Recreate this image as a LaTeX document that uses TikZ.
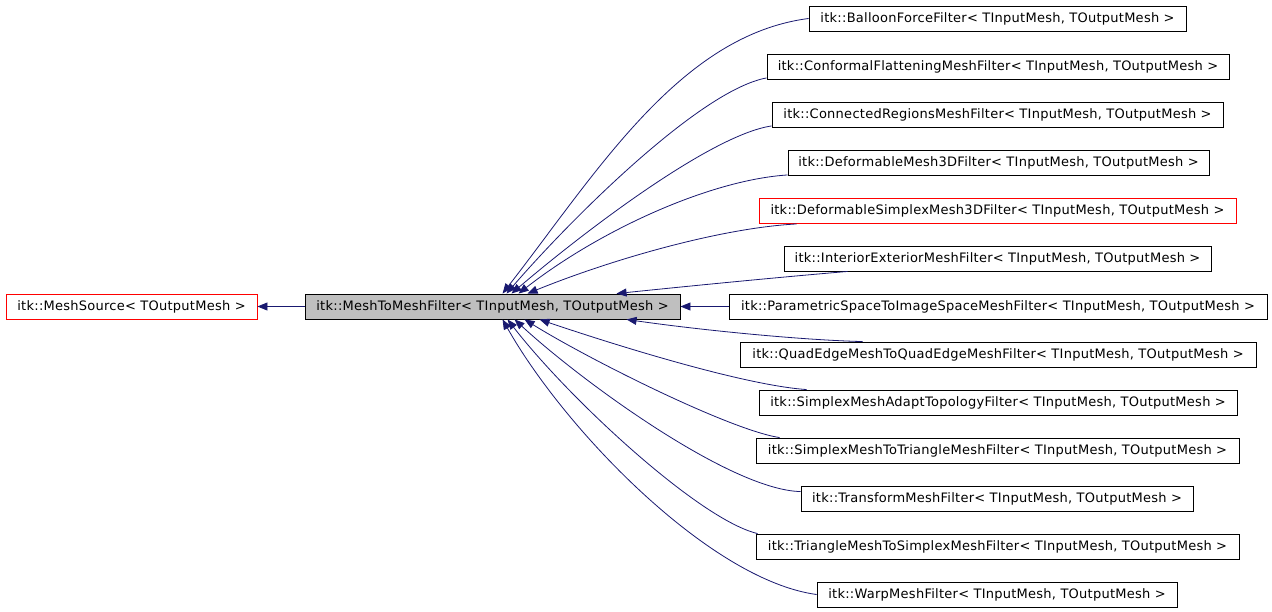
\documentclass[tikz,border=0pt]{standalone}
\usepackage{fontspec}
\setmainfont{DejaVu Sans}[LetterSpace=2.0]
\usetikzlibrary{arrows.meta}
\definecolor{edgeblue}{HTML}{191970}
\definecolor{boxgray}{HTML}{BFBFBF}
\begin{document}
\begin{tikzpicture}[x=1pt,y=-1pt,
  cls/.style={draw=black,line width=0.9pt,rectangle,inner sep=0pt,minimum height=25pt,font=\fontsize{13}{15}\selectfont,text=black},
  redcls/.style={cls,draw=red},
  curcls/.style={cls,fill=boxgray},
  edge/.style={draw=edgeblue,line width=0.8pt,-{Triangle[length=10pt,width=8pt]}}]
\useasboundingbox (0,0) rectangle (1272,611);
% nodes
\node[redcls,minimum width=251pt] (src) at (131.5,306.5) {itk::MeshSource< TOutputMesh >};
\node[curcls,minimum width=375pt] (mid) at (492.5,306.5) {itk::MeshToMeshFilter< TInputMesh, TOutputMesh >};
\node[cls,minimum width=377pt] (r1) at (997.5,18.5) {itk::BalloonForceFilter< TInputMesh, TOutputMesh >};
\node[cls,minimum width=462pt] (r2) at (998,67) {itk::ConformalFlatteningMeshFilter< TInputMesh, TOutputMesh >};
\node[cls,minimum width=451pt] (r3) at (997.5,115) {itk::ConnectedRegionsMeshFilter< TInputMesh, TOutputMesh >};
\node[cls,minimum width=421pt] (r4) at (998.5,163) {itk::DeformableMesh3DFilter< TInputMesh, TOutputMesh >};
\node[redcls,minimum width=477pt] (r5) at (997.5,211) {itk::DeformableSimplexMesh3DFilter< TInputMesh, TOutputMesh >};
\node[cls,minimum width=427pt] (r6) at (997.5,258.5) {itk::InteriorExteriorMeshFilter< TInputMesh, TOutputMesh >};
\node[cls,minimum width=538pt] (r7) at (998,306.5) {itk::ParametricSpaceToImageSpaceMeshFilter< TInputMesh, TOutputMesh >};
\node[cls,minimum width=516pt] (r8) at (998,354.5) {itk::QuadEdgeMeshToQuadEdgeMeshFilter< TInputMesh, TOutputMesh >};
\node[cls,minimum width=478pt] (r9) at (998,402.5) {itk::SimplexMeshAdaptTopologyFilter< TInputMesh, TOutputMesh >};
\node[cls,minimum width=483pt] (r10) at (997.5,450.5) {itk::SimplexMeshToTriangleMeshFilter< TInputMesh, TOutputMesh >};
\node[cls,minimum width=392pt] (r11) at (997,498.5) {itk::TransformMeshFilter< TInputMesh, TOutputMesh >};
\node[cls,minimum width=483pt] (r12) at (997.5,546.5) {itk::TriangleMeshToSimplexMeshFilter< TInputMesh, TOutputMesh >};
\node[cls,minimum width=360pt] (r13) at (997,594.5) {itk::WarpMeshFilter< TInputMesh, TOutputMesh >};
% edges
\draw[edge] (mid.west) -- (src.east);
\draw[edge] (r1.west) .. controls (680,35) and (597,172) .. ([xshift=198pt]mid.north west);
\draw[edge] ([yshift=2pt]r2.south west) .. controls (700,90) and (570,220) .. ([xshift=202pt]mid.north west);
\draw[edge] ([yshift=2pt]r3.south west) .. controls (710,135) and (580,235) .. ([xshift=207pt]mid.north west);
\draw[edge] ([yshift=1pt]r4.south west) .. controls (710,180) and (600,230) .. ([xshift=214pt]mid.north west);
\draw[edge] ([xshift=38pt]r5.south west) .. controls (720,228) and (610,260) .. ([xshift=223pt]mid.north west);
\draw[edge] ([xshift=64pt]r6.south west) .. controls (770,278) and (680,287) .. ([xshift=312pt]mid.north west);
\draw[edge] (r7.west) -- (mid.east);
\draw[edge] ([xshift=123pt]r8.north west) .. controls (800,340) and (700,330) .. ([xshift=322pt]mid.south west);
\draw[edge] ([xshift=48pt]r9.north west) .. controls (740,385) and (600,340) .. ([xshift=235pt]mid.south west);
\draw[edge] ([xshift=24pt]r10.north west) .. controls (730,430) and (590,360) .. ([xshift=220pt]mid.south west);
\draw[edge] ([yshift=-6pt]r11.north west) .. controls (730,490) and (580,380) .. ([xshift=210pt]mid.south west);
\draw[edge] ([xshift=2pt]r12.north west) .. controls (700,520) and (570,400) .. ([xshift=203pt]mid.south west);
\draw[edge] (r13.west) .. controls (710,580) and (565,430) .. ([xshift=198pt]mid.south west);
\end{tikzpicture}
\end{document}
